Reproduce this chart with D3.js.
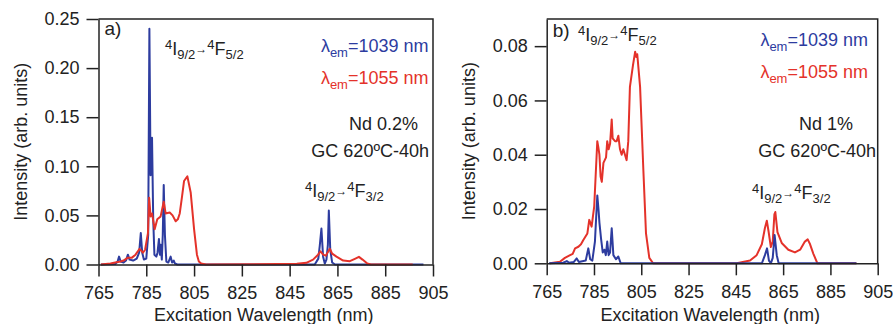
<!DOCTYPE html>
<html>
<head>
<meta charset="utf-8">
<script src="https://cdn.jsdelivr.net/npm/d3@7"></script>
<style>
  body { margin: 0; background: #fff; }
  svg { font-family: "Liberation Sans", Arial, sans-serif; }
  .axis path, .axis line { stroke: #222; stroke-width: 1.5; }
  .axis text { font-size: 18px; fill: #222; }
</style>
</head>
<body>
<svg id="chart" width="893" height="324"></svg>
<script>
// x ticks shared by both panels
const xTicks = [765, 785, 805, 825, 845, 865, 885, 905];
const yTicksA = [0, 0.05, 0.10, 0.15, 0.20, 0.25];
const yTicksB = [0, 0.02, 0.04, 0.06, 0.08];

// panel a) Nd 0.2%, em 1039 nm (blue)
const blueA_nm  = [766, 772, 773, 773.6, 774.3, 775.5, 776.5, 777.3, 778, 779.5, 781, 782, 782.7, 783.3, 784, 785, 785.8, 786.3, 786.8, 787.4, 787.9, 788.4, 789.2, 789.7, 790.3, 790.7, 791, 791.5, 791.9, 792.3, 792.8, 793.4, 794.2, 795.2, 795.8, 796.5, 797, 798, 855.5, 857, 857.6, 858.3, 859, 859.7, 860.4, 861, 861.4, 862, 862.8, 864, 901];
const blueA_int = [0, 0.0005, 0.003, 0.008, 0.003, 0.002, 0.004, 0.01, 0.005, 0.004, 0.006, 0.012, 0.032, 0.012, 0.005, 0.006, 0.03, 0.24, 0.091, 0.129, 0.046, 0.01, 0.008, 0.012, 0.026, 0.01, 0.02, 0.005, 0.03, 0.081, 0.03, 0.003, 0.002, 0.008, 0.002, 0.004, 0.001, 0, 0, 0.006, 0.019, 0.0366, 0.008, 0.001, 0.005, 0.02, 0.055, 0.015, 0.002, 0, 0];

// panel a) em 1055 nm (red)
const redA_nm  = [766, 770, 772, 774.2, 775.5, 777.3, 779, 780.5, 782.2, 783.6, 784.5, 785.7, 786.2, 786.8, 787.4, 788.5, 789.6, 791, 792.3, 793.1, 794.8, 796, 797.3, 798.2, 799, 800, 800.8, 802.2, 803.6, 805, 806.2, 807, 808, 810, 840, 848, 852, 854.8, 856.9, 857.9, 859, 860.1, 861.1, 861.8, 862.8, 864.6, 867.4, 870.2, 872.3, 874, 875.5, 877.5, 879, 896.5];
const redA_int = [0, 0.001, 0.002, 0.003, 0.004, 0.007, 0.007, 0.01, 0.016, 0.012, 0.015, 0.032, 0.068, 0.049, 0.052, 0.036, 0.046, 0.049, 0.064, 0.052, 0.053, 0.05, 0.044, 0.046, 0.052, 0.07, 0.085, 0.0897, 0.073, 0.036, 0.01, 0.003, 0.001, 0, 0.0005, 0.0007, 0.0017, 0.005, 0.01, 0.0135, 0.01, 0.009, 0.013, 0.016, 0.011, 0.008, 0.004, 0.0034, 0.0058, 0.0078, 0.005, 0.001, 0, 0];

// panel b) Nd 1%, em 1039 nm (blue)
const blueB_nm  = [766, 772, 773.5, 774.5, 776.5, 777.7, 778.6, 781.5, 782.6, 783.4, 784.3, 785.4, 786.4, 786.9, 787.3, 788, 788.7, 789.4, 790, 790.6, 791.2, 791.8, 792.5, 793.2, 794.3, 795.3, 796.3, 856, 857.3, 858.2, 859, 859.8, 860.6, 861.4, 862.3, 863.1, 896];
const blueB_int = [0, 0.0002, 0.0008, 0.0002, 0.0005, 0.0018, 0.0005, 0.001, 0.0055, 0.0015, 0.001, 0.008, 0.025, 0.02, 0.015, 0.009, 0.004, 0.005, 0.003, 0.008, 0.003, 0.004, 0.0129, 0.003, 0.0015, 0.0025, 0, 0, 0.003, 0.0055, 0.001, 0, 0.002, 0.0104, 0.003, 0, 0];

// panel b) em 1055 nm (red)
const redB_nm  = [766.4, 770.6, 772.7, 774.9, 776, 777, 778.4, 779.5, 780.5, 782.2, 783, 784, 785.1, 785.8, 786.4, 786.8, 787.3, 787.8, 788.3, 789, 790.1, 790.6, 791.2, 791.8, 792.5, 792.9, 793.9, 794.6, 795.3, 796, 796.7, 797.4, 798.1, 798.8, 799.5, 800.2, 801.5, 802.4, 802.9, 803.3, 804.5, 805.9, 807, 808.4, 810, 845.4, 851, 853.8, 856, 857.3, 858.1, 858.8, 859.8, 860.6, 861.3, 861.7, 862.6, 864.4, 867.2, 870, 872.2, 874.2, 875.4, 876.4, 877.8, 879.5, 896];
const redB_int = [0, 0.0006, 0.002, 0.003, 0.0035, 0.0055, 0.0061, 0.007, 0.0086, 0.011, 0.016, 0.0135, 0.021, 0.034, 0.045, 0.043, 0.040, 0.032, 0.030, 0.037, 0.039, 0.045, 0.042, 0.044, 0.053, 0.046, 0.045, 0.045, 0.047, 0.042, 0.040, 0.042, 0.040, 0.038, 0.045, 0.065, 0.073, 0.0779, 0.076, 0.077, 0.065, 0.034, 0.011, 0.002, 0, 0, 0.001, 0.003, 0.007, 0.013, 0.0157, 0.012, 0.006, 0.008, 0.018, 0.0189, 0.0115, 0.0075, 0.005, 0.004, 0.005, 0.008, 0.0088, 0.007, 0.0035, 0, 0];

const BLUE = "#2d3c9f";
const RED = "#e4322a";
const INK = "#222";

let svg = d3.select("#chart");

let zip = (xs, ys) => xs.map((x, i) => [x, ys[i]]);

// draws one panel: frame, axes, both spectra and the texts
function drawPanel(p) {
    let x = d3.scaleLinear().domain([765, 905]).range([p.left, p.right]);
    let y = d3.scaleLinear().domain([0, p.ymax]).range([p.bottom, p.top]);

    let g = svg.append("g");

    // curves
    let line = d3.line().x(d => x(d[0])).y(d => y(d[1]));
    let series = [
        { data: zip(p.blueX, p.blueY), color: BLUE },
        { data: zip(p.redX, p.redY), color: RED }
    ];
    if (p.blueOnTop) series.reverse();
    series.forEach(s => {
        g.append("path")
            .attr("d", line(s.data))
            .attr("fill", "none")
            .attr("stroke", s.color)
            .attr("stroke-width", 2)
            .attr("stroke-linejoin", "round");
    });

    // axes
    g.append("g")
        .attr("class", "axis")
        .attr("transform", `translate(0, ${p.bottom})`)
        .call(d3.axisBottom(x).tickValues(xTicks).tickSize(12).tickSizeOuter(0).tickPadding(10).tickFormat(d3.format("d")));
    g.append("g")
        .attr("class", "axis")
        .attr("transform", `translate(${p.left}, 0)`)
        .call(d3.axisLeft(y).tickValues(p.yTicks).tickSize(12).tickSizeOuter(0).tickPadding(7).tickFormat(d3.format(".2f")));

    // top and right frame
    g.append("path")
        .attr("d", `M${p.left},${p.top}H${p.right}V${p.bottom}`)
        .attr("fill", "none")
        .attr("stroke", INK)
        .attr("stroke-width", 1.5);

    // axis titles
    g.append("text")
        .attr("x", (p.left + p.right) / 2 - 2)
        .attr("y", 321)
        .attr("text-anchor", "middle")
        .style("font-size", "18px")
        .attr("fill", INK)
        .text("Excitation Wavelength (nm)");
    g.append("text")
        .attr("transform", `translate(${p.left - 72}, ${(p.top + p.bottom) / 2}) rotate(-90)`)
        .attr("text-anchor", "middle")
        .style("font-size", "18px")
        .attr("fill", INK)
        .text("Intensity (arb. units)");

    // panel letter
    g.append("text")
        .attr("x", p.left + 6)
        .attr("y", p.letterY)
        .style("font-size", "19px")
        .attr("fill", INK)
        .text(p.letter);

    // legend
    legendLine(g, p.legendRight, p.legendY[0], "=1039 nm", BLUE);
    legendLine(g, p.legendRight, p.legendY[1], "=1055 nm", RED);

    // sample info
    g.append("text")
        .attr("x", p.ndX).attr("y", 130)
        .attr("text-anchor", "end")
        .style("font-size", "18px").attr("fill", INK)
        .text(p.nd);
    g.append("text")
        .attr("x", p.gcX).attr("y", 157)
        .attr("text-anchor", "end")
        .style("font-size", "18px").attr("fill", INK)
        .text("GC 620ºC-40h");

    // transitions
    transition(g, p.t1[0], p.t1[1], "5/2");
    transition(g, p.t2[0], p.t2[1], "3/2");
}

function legendLine(g, right, baseline, label, color) {
    let t = g.append("text")
        .attr("x", right).attr("y", baseline)
        .attr("text-anchor", "end")
        .attr("fill", color)
        .style("font-size", "18px");
    t.append("tspan").text("λ");
    t.append("tspan").attr("dy", 5).style("font-size", "13px").text("em");
    t.append("tspan").attr("dy", -5).text(label);
}

// 4I9/2 -> 4F(x/2) label
function transition(g, x0, baseline, sub) {
    let t = g.append("text")
        .attr("x", x0).attr("y", baseline)
        .attr("fill", INK)
        .style("font-size", "18px");
    t.append("tspan").attr("dy", -6).style("font-size", "13px").text("4");
    t.append("tspan").attr("dy", 6).text("I");
    t.append("tspan").attr("dy", 4).style("font-size", "13px").text("9/2");
    t.append("tspan").attr("dy", -6).style("font-size", "12px").text("→");
    t.append("tspan").attr("dy", -4).style("font-size", "13px").text("4");
    t.append("tspan").attr("dy", 6).text("F");
    t.append("tspan").attr("dy", 4).style("font-size", "13px").text(sub);
}

drawPanel({
    left: 98.5, right: 433, top: 19, bottom: 264.5, ymax: 0.25, yTicks: yTicksA,
    blueX: blueA_nm, blueY: blueA_int, redX: redA_nm, redY: redA_int, blueOnTop: false,
    letter: "a)", letterY: 35,
    legendRight: 428.5, legendY: [51.5, 83.5],
    nd: "Nd 0.2%", ndX: 418, gcX: 429,
    t1: [165, 55], t2: [305, 197]
});

drawPanel({
    left: 546.7, right: 877.7, top: 19, bottom: 263.3, ymax: 0.09, yTicks: yTicksB,
    blueX: blueB_nm, blueY: blueB_int, redX: redB_nm, redY: redB_int, blueOnTop: true,
    letter: "b)", letterY: 37,
    legendRight: 868, legendY: [46, 78],
    nd: "Nd 1%", ndX: 853, gcX: 876,
    t1: [578, 41], t2: [752, 199]
});
</script>
</body>
</html>
